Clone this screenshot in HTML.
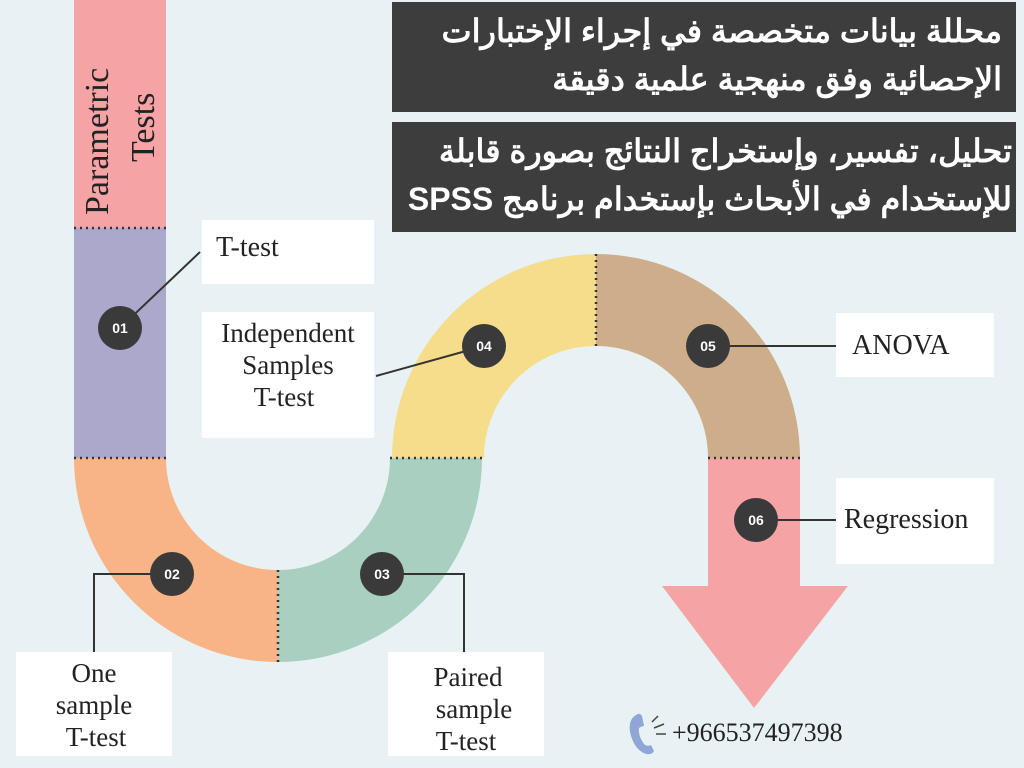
<!DOCTYPE html>
<html><head><meta charset="utf-8"><style>
html,body{margin:0;padding:0;background:#e8f2f4;}
body{position:relative;width:1024px;height:768px;overflow:hidden}
svg{display:block;position:absolute;left:0;top:0}
.t{font-family:"Liberation Serif",serif;fill:#222;}
.n{font-family:"Liberation Sans",sans-serif;font-weight:bold;fill:#fff;font-size:14px;}
.ar{position:absolute;font-family:"Liberation Sans","Noto Sans CJK SC",sans-serif;color:#fff;font-weight:bold;font-size:32px;line-height:46px;direction:rtl;text-align:right;white-space:nowrap;}
</style></head><body>
<svg width="1024" height="768" viewBox="0 0 1024 768" xmlns="http://www.w3.org/2000/svg">
<rect width="1024" height="768" fill="#e8f2f4"/>
<rect x="74" y="0" width="92" height="228" fill="#f5a3a4"/>
<rect x="74" y="228" width="92" height="230" fill="#aca8cc"/>
<path d="M74 458 A204 204 0 0 0 278 662 L278 570 A112 112 0 0 1 166 458 Z" fill="#f8b487"/>
<path d="M278 662 A204 204 0 0 0 482 458 L390 458 A112 112 0 0 1 278 570 Z" fill="#a9cfc0"/>
<path d="M392 458 A204 204 0 0 1 596 254 L596 346 A112 112 0 0 0 484 458 Z" fill="#f6dd8c"/>
<path d="M596 254 A204 204 0 0 1 800 458 L708 458 A112 112 0 0 0 596 346 Z" fill="#ceae8a"/>
<path d="M708 458 L800 458 L800 586 L848 586 L754 708 L662 586 L708 586 Z" fill="#f5a3a4"/>
<g stroke="#333" stroke-width="2.5" stroke-dasharray="2,4">
<line x1="74" y1="228" x2="166" y2="228"/>
<line x1="74" y1="458" x2="166" y2="458"/>
<line x1="278" y1="570" x2="278" y2="662"/>
<line x1="390" y1="458" x2="482" y2="458"/>
<line x1="596" y1="254" x2="596" y2="346"/>
<line x1="708" y1="458" x2="800" y2="458"/>
</g>
<text class="t" font-size="34" transform="translate(108,215) rotate(-90)">Parametric</text>
<text class="t" font-size="34" transform="translate(154,162) rotate(-90)">Tests</text>
<rect x="392" y="2" width="624" height="110" fill="#3d3d3d"/>
<rect x="392" y="122" width="624" height="110" fill="#3d3d3d"/>
<g fill="#fff">
<rect x="202" y="220" width="172" height="64"/>
<rect x="202" y="312" width="172" height="126"/>
<rect x="836" y="313" width="158" height="64"/>
<rect x="836" y="478" width="158" height="86"/>
<rect x="16" y="652" width="156" height="104"/>
<rect x="388" y="652" width="156" height="104"/>
</g>
<g stroke="#333" stroke-width="2" fill="none">
<line x1="120" y1="328" x2="200" y2="252"/>
<line x1="484" y1="346" x2="376" y2="376"/>
<line x1="708" y1="346" x2="836" y2="346"/>
<line x1="756" y1="520" x2="836" y2="520"/>
<polyline points="172,574 94,574 94,652"/>
<polyline points="382,574 464,574 464,652"/>
</g>
<g fill="#3a3a3a">
<circle cx="120" cy="328" r="22"/><circle cx="172" cy="574" r="22"/>
<circle cx="382" cy="574" r="22"/><circle cx="484" cy="346" r="22"/>
<circle cx="708" cy="346" r="22"/><circle cx="756" cy="520" r="22"/>
</g>
<g class="n" text-anchor="middle">
<text x="120" y="333">01</text><text x="172" y="579">02</text><text x="382" y="579">03</text>
<text x="484" y="351">04</text><text x="708" y="351">05</text><text x="756" y="525">06</text>
</g>
<g class="t" font-size="28">
<text x="216" y="256">T-test</text>
<text x="852" y="354">ANOVA</text>
<text x="844" y="528">Regression</text>
</g>
<g class="t" font-size="27" text-anchor="middle">
<text x="288" y="342">Independent</text><text x="288" y="374">Samples</text><text x="284" y="406">T-test</text>
<text x="94" y="682">One</text><text x="94" y="714">sample</text><text x="96" y="746">T-test</text>
<text x="468" y="686">Paired</text><text x="474" y="718">sample</text><text x="466" y="750">T-test</text>
</g>
<path d="M638 714 q-10 4 -8 18 q4 18 16 22 q6 1 8 -3 l-3 -6 q-4 2 -7 -1 q-6 -8 -5 -16 q3 -2 5 -2 l-2 -10 q-2 -3 -4 -2 Z" fill="#8fa6d6"/>
<g stroke="#444" stroke-width="1.5"><line x1="652" y1="722" x2="658" y2="716"/><line x1="654" y1="728" x2="664" y2="724"/><line x1="656" y1="734" x2="666" y2="734"/></g>
<text class="t" font-size="26" x="672" y="741" fill="#333">+966537497398</text>
</svg>
<div class="ar" style="right:22px;top:8px;">محللة بيانات متخصصة في إجراء الإختبارات</div>
<div class="ar" style="right:22px;top:56px;">الإحصائية وفق منهجية علمية دقيقة</div>
<div class="ar" style="right:12px;top:128px;">تحليل، تفسير، وإستخراج النتائج بصورة قابلة</div>
<div class="ar" style="right:12px;top:176px;">للإستخدام في الأبحاث بإستخدام برنامج SPSS</div>
</body></html>
